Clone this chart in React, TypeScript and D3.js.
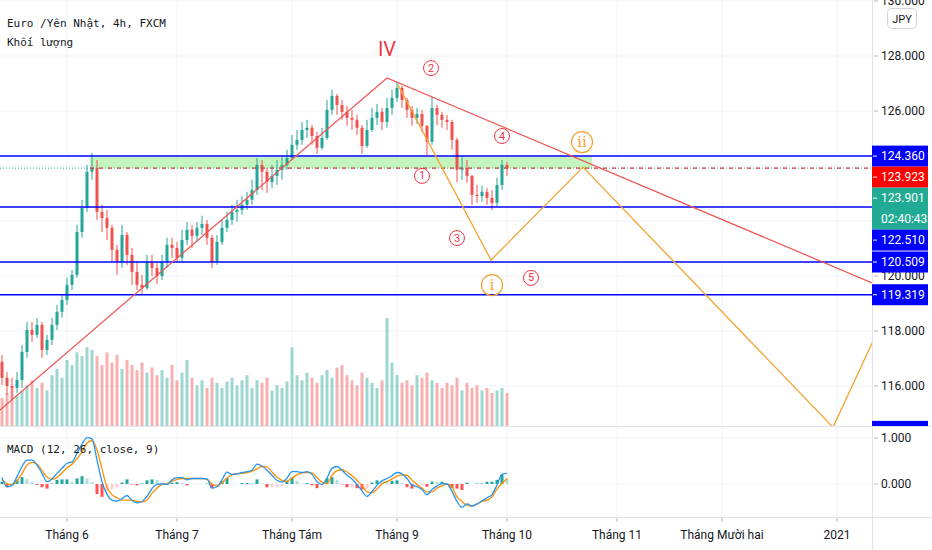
import { useMemo } from "react";
import * as d3 from "d3";

// Layout of the TradingView-style panes
const WIDTH = 932;
const HEIGHT = 550;
const PLOT_RIGHT = 872;
const PRICE_BOTTOM = 426;
const MACD_TOP = 427;
const MACD_BOTTOM = 517;
const LABEL_H = 21;

// Daily bars, first bar = 13 May 2020 (weekdays only)
const START_DATE = new Date(2020, 4, 13);
const LAST_INDEX = 174; // bar index at the right edge of the plot
const FIRST_OPEN = 116.88;

const closes = [
  116.3, 116.0, 115.93, 116.22, 117.24, 118.04, 117.86, 118.22, 117.31, 117.68,
  118.22, 118.7, 119.13, 119.68, 120.04, 121.6, 122.48, 123.79, 123.93, 122.33,
  122.11, 121.75, 120.95, 120.51, 121.49, 120.77, 120.15, 119.68, 119.57, 120.51,
  120.29, 120.0, 120.51, 121.13, 121.02, 120.66, 121.31, 121.68, 121.46, 121.75,
  121.89, 121.39, 120.51, 121.24, 121.75, 122.04, 122.33, 122.4, 122.59, 122.77,
  123.13, 124.04, 123.79, 123.42, 123.64, 123.86, 124.04, 124.29, 124.77, 124.95,
  125.31, 125.39, 125.09, 124.66, 125.02, 126.04, 126.55, 126.22, 125.97, 125.75,
  125.68, 125.39, 124.73, 125.31, 125.75, 125.97, 125.6, 126.11, 126.48, 126.84,
  126.4, 126.04, 125.75, 125.89, 125.46, 124.88, 126.11, 125.86, 125.68, 125.6,
  124.95, 123.86, 123.93, 123.64, 122.95, 122.91, 123.06, 122.84, 122.66, 123.31,
  124.04, 123.923,
];
const highs = [
  117.13, 116.51, 116.3, 116.51, 117.49, 118.33, 118.33, 118.48, 118.33, 117.86,
  118.48, 118.95, 119.31, 119.93, 120.22, 121.86, 122.77, 124.04, 124.48, 124.22,
  122.59, 122.4, 121.86, 121.13, 121.86, 121.6, 121.02, 120.51, 120.04, 120.77,
  120.77, 120.51, 120.77, 121.39, 121.39, 121.24, 121.68, 121.97, 121.86, 121.97,
  122.19, 122.04, 121.49, 121.49, 122.04, 122.33, 122.59, 122.77, 122.91, 123.06,
  123.5, 124.29, 124.22, 123.93, 124.04, 124.22, 124.4, 124.59, 125.13, 125.31,
  125.6, 125.68, 125.49, 125.24, 125.39, 126.4, 126.77, 126.62, 126.4, 126.19,
  126.04, 125.86, 125.49, 125.68, 126.11, 126.26, 126.11, 126.48, 126.77, 127.06,
  126.91, 126.48, 126.19, 126.11, 126.04, 125.49, 126.51, 126.22, 125.97, 125.86,
  125.68, 125.02, 124.37, 124.22, 123.68, 123.31, 123.28, 123.2, 123.13, 123.57,
  124.22, 124.15,
];
const lows = [
  116.04, 115.68, 115.49, 115.75, 115.93, 117.02, 117.6, 117.75, 117.02, 117.13,
  117.49, 118.04, 118.48, 118.95, 119.49, 119.93, 121.39, 122.33, 123.5, 122.04,
  121.6, 121.31, 120.51, 120.04, 120.29, 120.4, 119.68, 119.49, 119.35, 119.49,
  120.0, 119.71, 119.86, 120.29, 120.66, 120.51, 120.51, 121.13, 121.02, 121.24,
  121.49, 121.13, 120.29, 120.4, 121.13, 121.6, 121.86, 121.97, 122.22, 122.4,
  122.59, 122.95, 123.13, 123.02, 123.2, 123.31, 123.5, 123.86, 124.22, 124.59,
  124.77, 125.02, 124.77, 124.44, 124.59, 124.95, 125.86, 125.86, 125.68, 125.46,
  125.31, 125.13, 124.44, 124.66, 125.24, 125.49, 125.31, 125.39, 125.86, 126.33,
  126.11, 125.75, 125.46, 125.53, 125.24, 124.4, 124.77, 125.49, 125.39, 125.31,
  124.59, 123.42, 123.5, 123.39, 122.59, 122.66, 122.7, 122.59, 122.4, 122.51,
  123.13, 123.64,
];
const volumes = [
  22, 26, 30, 24, 28, 32, 36, 30, 34, 28, 40, 45, 38, 52, 48, 58, 55, 62, 60, 55,
  48, 58, 50, 56, 45, 52, 48, 44, 50, 42, 46, 40, 44, 38, 48, 36, 42, 52, 38, 32,
  36, 30, 38, 34, 30, 35, 38, 32, 36, 40, 30, 36, 34, 38, 28, 32, 30, 35, 62, 40,
  36, 42, 38, 34, 40, 44, 38, 46, 48, 40, 36, 32, 42, 38, 34, 30, 36, 85, 50, 40,
  34, 36, 32, 40, 38, 42, 36, 34, 30, 34, 32, 38, 28, 34, 30, 32, 28, 30, 26, 28,
  30, 26,
];
const macdLine = [
  0.14, -0.06, -0.03, 0.16, 0.38, 0.52, 0.52, 0.41, 0.23, 0.05,
  0.11, 0.23, 0.34, 0.45, 0.48, 0.67, 0.87, 1.01, 0.98, 0.52,
  0.05, -0.22, -0.35, -0.37, -0.32, -0.25, -0.36, -0.41, -0.38, -0.27,
  -0.1, -0.01, 0.0, -0.01, 0.09, 0.14, 0.14, 0.09, 0.12, 0.12,
  0.12, 0.11, -0.09, -0.06, 0.09, 0.26, 0.21, 0.22, 0.25, 0.27,
  0.3, 0.43, 0.39, 0.3, 0.19, 0.08, 0.04, 0.13, 0.27, 0.27,
  0.25, 0.27, 0.21, 0.05, -0.01, 0.13, 0.34, 0.38, 0.3, 0.19,
  0.11, -0.01, -0.15, -0.27, -0.16, -0.03, 0.07, 0.12, 0.18, 0.25,
  0.22, 0.12, -0.02, -0.06, -0.12, -0.23, -0.12, -0.04, 0.01, 0.0,
  -0.16, -0.38, -0.51, -0.43, -0.48, -0.43, -0.37, -0.3, -0.23, -0.02,
  0.21, 0.23,
];
const signalLine = [
  0.09, 0.01, -0.01, 0.07, 0.23, 0.41, 0.47, 0.43, 0.3, 0.15,
  0.1, 0.14, 0.24, 0.35, 0.43, 0.55, 0.7, 0.89, 0.94, 0.74,
  0.33, -0.07, -0.23, -0.3, -0.35, -0.35, -0.35, -0.38, -0.39, -0.35,
  -0.2, -0.09, -0.01, 0.01, 0.06, 0.1, 0.12, 0.12, 0.12, 0.12,
  0.12, 0.1, 0.0, -0.04, 0.03, 0.13, 0.2, 0.22, 0.23, 0.25,
  0.28, 0.33, 0.38, 0.37, 0.26, 0.15, 0.08, 0.06, 0.13, 0.2,
  0.24, 0.25, 0.24, 0.14, 0.04, 0.01, 0.19, 0.29, 0.31, 0.26,
  0.18, 0.08, -0.03, -0.17, -0.19, -0.11, 0.0, 0.05, 0.11, 0.17,
  0.2, 0.19, 0.08, -0.01, -0.09, -0.17, -0.17, -0.09, -0.04, 0.0,
  -0.07, -0.28, -0.38, -0.46, -0.48, -0.44, -0.38, -0.35, -0.28, -0.11,
  0.01, 0.12,
];

const priceTicks = [116, 118, 120, 122, 124, 126, 128, 130];
const macdTicks = [0, 1];
const monthStarts = [
  new Date(2020, 5, 1), new Date(2020, 6, 1), new Date(2020, 7, 1), new Date(2020, 8, 1),
  new Date(2020, 9, 1), new Date(2020, 10, 1), new Date(2020, 11, 1), new Date(2021, 0, 1),
];
const monthLabels = ["Tháng 6", "Tháng 7", "Tháng Tám", "Tháng 9", "Tháng 10", "Tháng 11", "Tháng Mười hai", "2021"];

// Horizontal levels drawn by the author
const levels = [124.36, 122.51, 120.509, 119.319, 114.35];
const lastPrice = 123.923;
const bidPrice = 123.901;
const countdown = "02:40:43";
// Resistance zone: bar range and price range
const zoneBars = [17.6, 118];
const zonePrices = [124.33, 123.92];

// Elliott drawing: [bar index, price]
const wedgePoints: [number, number][] = [[-0.4, 115.13], [77, 127.2], [174, 119.75]];
const wavePoints: [number, number][] = [[79.2, 126.95], [97.8, 120.58], [116.2, 123.96], [166.2, 114.5], [180, 119.9]];
const redLabels = [
  { t: "2", i: 85.8, p: 127.56 },
  { t: "4", i: 100, p: 125.09 },
  { t: "1", i: 84, p: 123.64 },
  { t: "3", i: 91, p: 121.38 },
  { t: "5", i: 105.8, p: 119.93 },
];
const orangeLabels = [
  { t: "i", i: 98, p: 119.67 },
  { t: "ii", i: 116, p: 124.87 },
];
const bigLabel = { t: "IV", i: 77, p: 128.25 };

const UP = "#26a69a";
const DOWN = "#ef5350";
const BLUE = "#0000ff";
const RED = "#f23645";
const ORANGE = "#f5a331";
const GRID = "#f0f3fa";
const TEXT = "#131722";
const AXIS_FONT = "Roboto, 'Liberation Sans', sans-serif";
const MONO_FONT = "'DejaVu Sans Mono', monospace";

export default function App() {
  const x = useMemo(() => d3.scaleLinear().domain([0, LAST_INDEX]).range([2, PLOT_RIGHT]), []);
  const y = useMemo(() => d3.scaleLinear().domain([116, 128]).range([386, 56]), []);
  const yVol = useMemo(() => d3.scaleLinear().domain([0, 100]).range([PRICE_BOTTOM, 299]), []);
  const yMacd = useMemo(() => d3.scaleLinear().domain([0, 1]).range([484, 438]), []);
  const fmt = d3.format(".3f");

  // bar index of the first trading day of each month
  const monthIndex = useMemo(() => {
    const days = d3.timeDay.range(START_DATE, new Date(2021, 0, 20)).filter((d) => d.getDay() !== 0 && d.getDay() !== 6);
    return monthStarts.map((m) => days.findIndex((d) => d >= m));
  }, []);

  const candles = closes.map((c, i) => ({
    i,
    o: i === 0 ? FIRST_OPEN : closes[i - 1],
    c,
    h: highs[i],
    l: lows[i],
    v: volumes[i],
  }));

  const hist = macdLine.map((m, i) => m - signalLine[i]);
  const histColor = (i: number) => {
    const h = hist[i];
    const prev = i > 0 ? hist[i - 1] : 0;
    if (h >= 0) return h >= prev ? UP : "#b2dfdb";
    return h < prev ? "#ff5252" : "#ffcdd2";
  };

  const lineGen = d3
    .line<[number, number]>()
    .x((d) => x(d[0]))
    .y((d) => y(d[1]));
  const macdGen = d3
    .line<number>()
    .x((_, i) => x(i))
    .y((d) => yMacd(d))
    .curve(d3.curveMonotoneX);

  // price labels on the right axis, stacked so they don't overlap
  const axisLabels = useMemo(() => {
    const items = [
      ...levels.map((v) => ({ value: v, color: BLUE, lines: [fmt(v)] })),
      { value: lastPrice, color: "#ff0000", lines: [fmt(lastPrice)] },
      { value: bidPrice, color: "#22ab94", lines: [fmt(bidPrice), countdown] },
    ].sort((a, b) => b.value - a.value);
    let prevBottom = -Infinity;
    return items.map((it) => {
      let top = y(it.value) - LABEL_H / 2;
      if (top < prevBottom) top = prevBottom;
      prevBottom = top + LABEL_H * it.lines.length;
      return { ...it, top };
    });
  }, [y]);

  // tick labels hidden when they sit under a price label box
  const visibleTicks = priceTicks.filter(
    (t) => !axisLabels.some((l) => y(t) >= l.top && y(t) <= l.top + LABEL_H * l.lines.length)
  );

  return (
    <div>
      <style>{"body{margin:0;background:#fff}"}</style>
      <svg width={WIDTH} height={HEIGHT} style={{ display: "block" }}>
        <defs>
          <clipPath id="pricePane">
            <rect x={0} y={0} width={PLOT_RIGHT} height={PRICE_BOTTOM} />
          </clipPath>
          <clipPath id="macdPane">
            <rect x={0} y={MACD_TOP} width={PLOT_RIGHT} height={MACD_BOTTOM - MACD_TOP} />
          </clipPath>
          <clipPath id="priceAxis">
            <rect x={PLOT_RIGHT} y={0} width={WIDTH - PLOT_RIGHT} height={PRICE_BOTTOM} />
          </clipPath>
        </defs>
        <rect width={WIDTH} height={HEIGHT} fill="#fff" />

        {/* grid */}
        {monthIndex.map((mi, k) => (
          <line key={"vg" + k} x1={x(mi)} x2={x(mi)} y1={0} y2={MACD_BOTTOM} stroke={GRID} />
        ))}
        {priceTicks.map((t) => (
          <line key={"hg" + t} x1={0} x2={PLOT_RIGHT} y1={y(t)} y2={y(t)} stroke={GRID} />
        ))}
        {macdTicks.map((t) => (
          <line key={"mg" + t} x1={0} x2={PLOT_RIGHT} y1={yMacd(t)} y2={yMacd(t)} stroke={GRID} />
        ))}

        <g clipPath="url(#pricePane)">
          {/* resistance zone */}
          <rect
            x={x(zoneBars[0])}
            width={x(zoneBars[1]) - x(zoneBars[0])}
            y={y(zonePrices[0])}
            height={y(zonePrices[1]) - y(zonePrices[0])}
            fill="#b7f2ae"
            opacity={0.8}
          />

          {/* volume */}
          {candles.map((d) => (
            <rect
              key={"v" + d.i}
              x={x(d.i) - 1.5}
              width={3}
              y={yVol(d.v)}
              height={PRICE_BOTTOM - yVol(d.v)}
              fill={d.c >= d.o ? UP : DOWN}
              opacity={0.45}
            />
          ))}

          {/* candles */}
          {candles.map((d) => {
            const col = d.c >= d.o ? UP : DOWN;
            const top = y(Math.max(d.o, d.c));
            const bh = Math.max(1, Math.abs(y(d.o) - y(d.c)));
            return (
              <g key={"c" + d.i}>
                <line x1={x(d.i)} x2={x(d.i)} y1={y(d.h)} y2={y(d.l)} stroke={col} strokeWidth={1} />
                <rect x={x(d.i) - 1.5} width={3} y={top} height={bh} fill={col} />
              </g>
            );
          })}

          {/* horizontal levels */}
          {levels.map((v) => (
            <line key={"lv" + v} x1={0} x2={PLOT_RIGHT} y1={y(v)} y2={y(v)} stroke={BLUE} strokeWidth={1.5} />
          ))}
          <line x1={0} x2={PLOT_RIGHT} y1={y(lastPrice)} y2={y(lastPrice)} stroke={UP} strokeDasharray="1 2" />
          <line
            x1={x(zoneBars[0])}
            x2={PLOT_RIGHT}
            y1={y(lastPrice)}
            y2={y(lastPrice)}
            stroke="#d84040"
            strokeWidth={1.2}
            strokeDasharray="4 5"
          />

          {/* Elliott drawings */}
          <path d={lineGen(wedgePoints) || undefined} fill="none" stroke={DOWN} strokeWidth={1.2} />
          <path d={lineGen(wavePoints) || undefined} fill="none" stroke={ORANGE} strokeWidth={1.3} />

          <text
            x={x(bigLabel.i)}
            y={y(bigLabel.p)}
            textAnchor="middle"
            dominantBaseline="central"
            fontFamily={AXIS_FONT}
            fontSize={20}
            fill={RED}
          >
            {bigLabel.t}
          </text>
          {redLabels.map((l) => (
            <g key={"r" + l.t} transform={`translate(${x(l.i)},${y(l.p)})`}>
              <circle r={7.5} fill="none" stroke={RED} strokeWidth={1} />
              <text textAnchor="middle" dominantBaseline="central" fontFamily={AXIS_FONT} fontSize={11} fill={RED}>
                {l.t}
              </text>
            </g>
          ))}
          {orangeLabels.map((l) => (
            <g key={"o" + l.t} transform={`translate(${x(l.i)},${y(l.p)})`}>
              <circle r={10.5} fill="none" stroke={ORANGE} strokeWidth={1.2} />
              <text textAnchor="middle" dominantBaseline="central" fontFamily="'DejaVu Serif', serif" fontSize={15} fill={ORANGE}>
                {l.t}
              </text>
            </g>
          ))}
        </g>

        {/* MACD pane */}
        <g clipPath="url(#macdPane)">
          {hist.map((h, i) => (
            <rect
              key={"h" + i}
              x={x(i) - 1.5}
              width={3}
              y={Math.min(yMacd(0), yMacd(h))}
              height={Math.abs(yMacd(h) - yMacd(0))}
              fill={histColor(i)}
            />
          ))}
          <path d={macdGen(signalLine) || undefined} fill="none" stroke="#ff8f00" strokeWidth={1.3} />
          <path d={macdGen(macdLine) || undefined} fill="none" stroke="#2196f3" strokeWidth={1.3} />
        </g>

        {/* separators */}
        <line x1={0} x2={WIDTH} y1={PRICE_BOTTOM + 0.5} y2={PRICE_BOTTOM + 0.5} stroke="#e0e3eb" />
        <line x1={0} x2={WIDTH} y1={MACD_BOTTOM + 0.5} y2={MACD_BOTTOM + 0.5} stroke="#e0e3eb" />
        <line x1={PLOT_RIGHT + 0.5} x2={PLOT_RIGHT + 0.5} y1={0} y2={HEIGHT} stroke="#e0e3eb" />

        {/* right price axis */}
        <g fontFamily={AXIS_FONT} fontSize={12} fill={TEXT}>
          {visibleTicks.map((t) => (
            <g key={"pt" + t}>
              <line x1={PLOT_RIGHT + 2} x2={PLOT_RIGHT + 6} y1={y(t)} y2={y(t)} stroke="#b2b5be" />
              <text x={PLOT_RIGHT + 9} y={y(t)} dominantBaseline="central">
                {fmt(t)}
              </text>
            </g>
          ))}
          {macdTicks.map((t) => (
            <g key={"mt" + t}>
              <line x1={PLOT_RIGHT + 2} x2={PLOT_RIGHT + 6} y1={yMacd(t)} y2={yMacd(t)} stroke="#b2b5be" />
              <text x={PLOT_RIGHT + 9} y={yMacd(t)} dominantBaseline="central">
                {fmt(t)}
              </text>
            </g>
          ))}
        </g>

        <g clipPath="url(#priceAxis)" fontFamily={AXIS_FONT} fontSize={12}>
          {axisLabels.map((l) => (
            <g key={"al" + l.value}>
              <rect x={PLOT_RIGHT} y={l.top} width={56} height={LABEL_H * l.lines.length} fill={l.color} />
              <line
                x1={PLOT_RIGHT + 1}
                x2={PLOT_RIGHT + 5}
                y1={l.top + LABEL_H / 2}
                y2={l.top + LABEL_H / 2}
                stroke="#fff"
              />
              {l.top + LABEL_H / 2 < PRICE_BOTTOM &&
                l.lines.map((s, k) => (
                  <text
                    key={k}
                    x={PLOT_RIGHT + 9}
                    y={l.top + LABEL_H / 2 + k * LABEL_H}
                    dominantBaseline="central"
                    fill="#fff"
                  >
                    {s}
                  </text>
                ))}
            </g>
          ))}
        </g>

        {/* currency badge */}
        <rect x={887.5} y={8.5} width={29} height={20} rx={4} fill="#fff" stroke="#d1d4dc" />
        <text x={902} y={19} textAnchor="middle" dominantBaseline="central" fontFamily={AXIS_FONT} fontSize={11} fill={TEXT}>
          JPY
        </text>

        {/* time axis */}
        <g fontFamily={AXIS_FONT} fontSize={12} fill={TEXT}>
          {monthIndex.map((mi, k) => (
            <g key={"xt" + k}>
              <line x1={x(mi)} x2={x(mi)} y1={MACD_BOTTOM + 1} y2={MACD_BOTTOM + 5} stroke="#b2b5be" />
              <text x={x(mi)} y={535} textAnchor="middle" dominantBaseline="central">
                {monthLabels[k]}
              </text>
            </g>
          ))}
        </g>

        {/* legends */}
        <g fontFamily={MONO_FONT} fontSize={11} fill={TEXT}>
          <text x={7} y={23} dominantBaseline="central">
            Euro /Yên Nhật, 4h, FXCM
          </text>
          <text x={7} y={42} dominantBaseline="central">
            Khối lượng
          </text>
          <text x={7} y={449} dominantBaseline="central">
            MACD (12, 26, close, 9)
          </text>
        </g>
      </svg>
    </div>
  );
}
